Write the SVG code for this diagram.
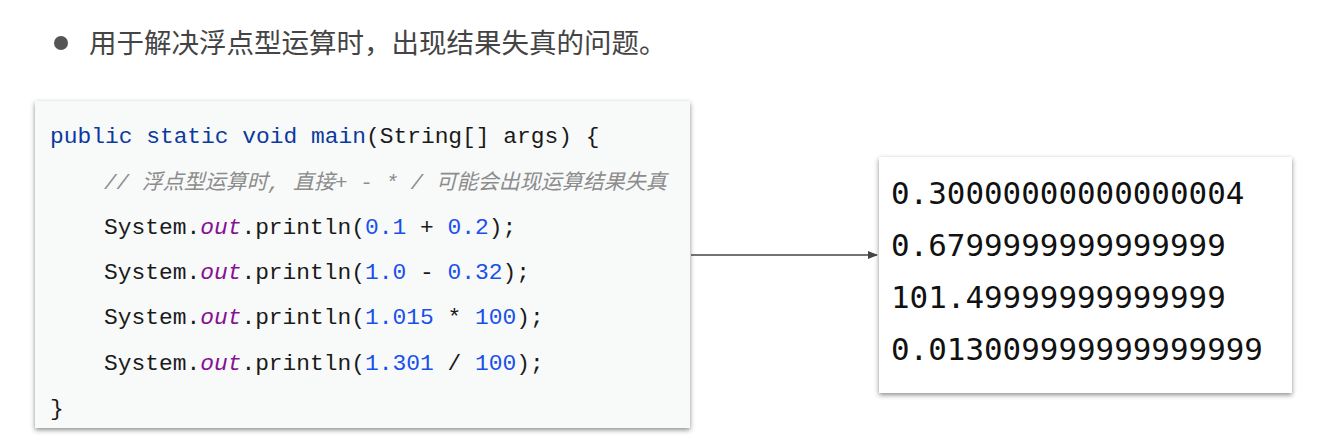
<svg xmlns="http://www.w3.org/2000/svg" width="1342" height="447" viewBox="0 0 1342 447">
<style>
.code{font-family:"Liberation Mono","DejaVu Sans Mono",monospace;font-size:22.9px;fill:#1a1a1a}
.kw{fill:#0b3a9e}.num{fill:#1750eb}.it{fill:#871094;font-style:italic}
.cm{font-family:"Liberation Mono","Noto Sans CJK SC",monospace;font-size:21px;fill:#8c8c8c;font-style:italic}
.res{font-family:"DejaVu Sans Mono",monospace;font-size:30.9px;fill:#111}
</style>
<defs>
<filter id="sh" x="-5%" y="-5%" width="110%" height="115%"><feDropShadow dx="0" dy="2" stdDeviation="2.5" flood-color="#000" flood-opacity="0.45"/></filter>
<marker id="ar" markerWidth="10" markerHeight="8" refX="9" refY="4" orient="auto" markerUnits="userSpaceOnUse"><path d="M0,0 L10,4 L0,8 z" fill="#444"/></marker>
</defs>
<rect width="1342" height="447" fill="#fff"/>
<g id="title">
<circle cx="61" cy="43" r="7" fill="#555"/>
<text x="89" y="53" font-family="Noto Sans CJK SC, sans-serif" font-size="27.5" fill="#444">用于解决浮点型运算时，出现结果失真的问题。</text>
</g>
<g id="code">
<rect x="35" y="101" width="655" height="327" fill="#f8f9f9" filter="url(#sh)"/>
<text class="code" x="50" y="143"><tspan class="kw">public static void main</tspan>(String[] args) {</text>
<text class="cm" x="104" y="189">// 浮点型运算时, 直接+ - * / 可能会出现运算结果失真</text>
<text class="code" x="104" y="234">System.<tspan class="it">out</tspan>.println(<tspan class="num">0.1</tspan> + <tspan class="num">0.2</tspan>);</text>
<text class="code" x="104" y="279">System.<tspan class="it">out</tspan>.println(<tspan class="num">1.0</tspan> - <tspan class="num">0.32</tspan>);</text>
<text class="code" x="104" y="324">System.<tspan class="it">out</tspan>.println(<tspan class="num">1.015</tspan> * <tspan class="num">100</tspan>);</text>
<text class="code" x="104" y="370">System.<tspan class="it">out</tspan>.println(<tspan class="num">1.301</tspan> / <tspan class="num">100</tspan>);</text>
<text class="code" x="50" y="415">}</text>
</g>
<g id="result">
<rect x="879" y="157" width="413" height="236" fill="#fff" filter="url(#sh)"/>
<text class="res" x="891" y="204">0.30000000000000004</text>
<text class="res" x="891" y="256">0.6799999999999999</text>
<text class="res" x="891" y="308">101.49999999999999</text>
<text class="res" x="891" y="360">0.013009999999999999</text>
</g>
<g id="connectors">
<line x1="691" y1="255" x2="877" y2="255" stroke="#444" stroke-width="1.5" marker-end="url(#ar)"/>
</g>
</svg>
